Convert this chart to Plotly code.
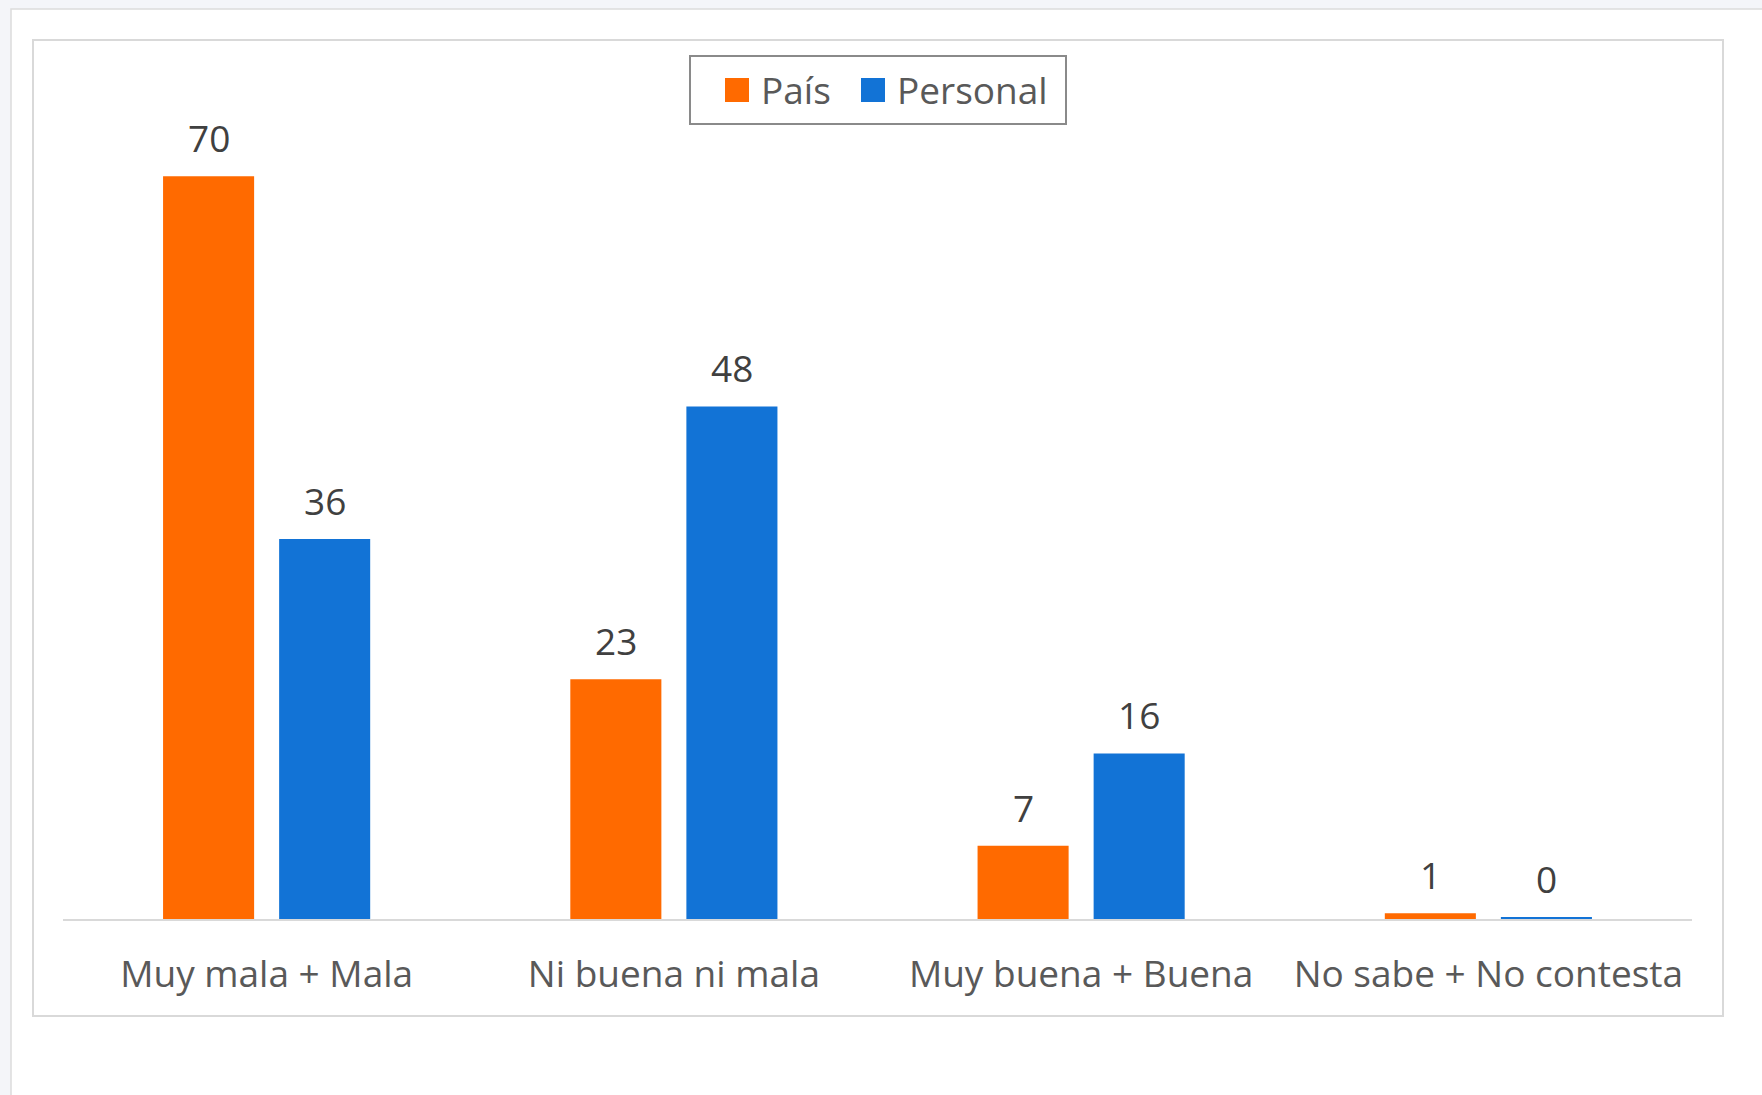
import plotly.graph_objects as go

# ---- data ----
categories = ["Muy mala + Mala", "Ni buena ni mala", "Muy buena + Buena", "No sabe + No contesta"]
pais = [70, 22.6, 6.9, 0.55]
personal = [35.8, 48.3, 15.6, 0.2]
series_names = ["País", "Personal"]

# ---- style ----
ORANGE = "#ff6a00"
BLUE = "#1273d6"
FONT = "Open Sans"
W, H = 1762, 1095
L, R, T, B = 63, 70, 70, 176
PW, PH = W - L - R, H - T - B
BARGAP = 0.43
BARGROUPGAP = 0.2155


def px_x(px):
    return (px - L) / PW


def px_y(py):
    return (H - B - py) / PH


fig = go.Figure()
series = [(series_names[0], pais, ORANGE), (series_names[1], personal, BLUE)]
for name, vals, col in series:
    fig.add_trace(go.Bar(
        x=categories, y=vals, name=name,
        marker=dict(color=col, line=dict(width=0)),
        showlegend=False,
        hoverinfo="skip",
    ))

# data labels, placed on the category scale at each bar's group offset
slot = (1 - BARGAP) / len(series)
annotations = []
for k, (name, vals, col) in enumerate(series):
    off = (k - (len(series) - 1) / 2) * slot
    for i, v in enumerate(vals):
        annotations.append(dict(
            text=str(int(v + 0.5)),
            x=i + off, y=v, xref="x", yref="y",
            xanchor="center", yanchor="bottom", yshift=11, showarrow=False,
            font=dict(family=FONT, size=37, color="#404040"),
        ))

shapes = [
    # outer panel
    dict(type="rect", xref="paper", yref="paper", layer="below",
         x0=px_x(11), x1=px_x(W + 20), y0=px_y(9), y1=px_y(H + 20),
         fillcolor="white", line=dict(color="#dcdcdc", width=1.5)),
    # chart frame
    dict(type="rect", xref="paper", yref="paper", layer="below",
         x0=px_x(33), x1=px_x(1723), y0=px_y(40), y1=px_y(1016),
         fillcolor="white", line=dict(color="#d9d9d9", width=2)),
    # legend box
    dict(type="rect", xref="paper", yref="paper", layer="above",
         x0=px_x(690), x1=px_x(1066), y0=px_y(56), y1=px_y(124),
         fillcolor="white", line=dict(color="#8a8a8a", width=2)),
    dict(type="rect", xref="paper", yref="paper", layer="above",
         x0=px_x(725), x1=px_x(749), y0=px_y(78), y1=px_y(102),
         fillcolor=ORANGE, line=dict(width=0)),
    dict(type="rect", xref="paper", yref="paper", layer="above",
         x0=px_x(861), x1=px_x(885), y0=px_y(78), y1=px_y(102),
         fillcolor=BLUE, line=dict(width=0)),
]

annotations += [
    dict(text=series_names[0], xref="paper", yref="paper", x=px_x(759), y=px_y(90),
         xanchor="left", yanchor="middle", showarrow=False,
         font=dict(family=FONT, size=37, color="#595959")),
    dict(text=series_names[1], xref="paper", yref="paper", x=px_x(895), y=px_y(90),
         xanchor="left", yanchor="middle", showarrow=False,
         font=dict(family=FONT, size=37, color="#595959")),
]

fig.update_layout(
    width=W, height=H,
    margin=dict(l=L, r=R, t=T, b=B, pad=0, autoexpand=False),
    paper_bgcolor="#f4f5f9",
    plot_bgcolor="rgba(0,0,0,0)",
    barmode="group",
    bargap=BARGAP,
    bargroupgap=BARGROUPGAP,
    shapes=shapes,
    annotations=annotations,
    showlegend=False,
    xaxis=dict(
        showline=True, linecolor="#d9d9d9", linewidth=2,
        ticks="", showgrid=False, automargin=False,
        tickfont=dict(family=FONT, size=37, color="#595959"),
        ticklabelstandoff=22,
    ),
    yaxis=dict(visible=False, range=[0, 80], showgrid=False, zeroline=False),
)

fig.write_html("out.html", config={"displayModeBar": False},
               post_script="document.body.style.margin='0px';")
